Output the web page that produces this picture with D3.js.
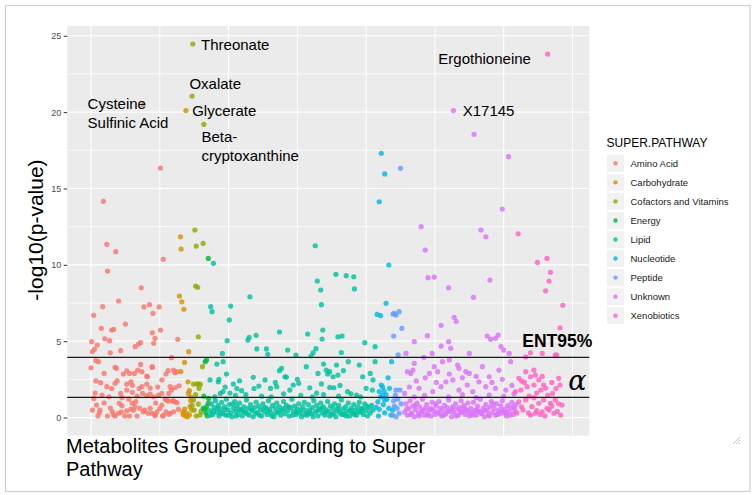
<!DOCTYPE html>
<html>
<head>
<meta charset="utf-8">
<script src="https://cdn.jsdelivr.net/npm/d3@7"></script>
<style>
  html, body { margin: 0; padding: 0; background: #fff; }
  svg { display: block; font-family: "Liberation Sans", Arial, Helvetica, sans-serif; }
</style>
</head>
<body>
<div id="chart"></div>
<script>
// ---- data: [metabolite index, -log10(p)] per super pathway ----
const aminoAcid = [[18,14.16],[23,11.34],[36,10.86],[76,20.46],[101,16.34],[24,9.59],[105,10.36],[73,8.5],[40,7.63],[17,7.26],[4,6.69],[77,7.24],[85,7.39],[90,6.82],[99,7.24],[50,6.12],[15,5.84],[30,5.73],[33,5.77],[20,5.16],[27,5.03],[1,4.97],[5,4.47],[9,4.75],[2,4.31],[28,4.24],[43,4.38],[64,4.64],[69,4.81],[89,5.55],[93,5.19],[91,4.86],[101,5.73],[126,5.12],[117,3.92],[7,3.72],[11,3.66],[0,3.26],[35,3.29],[37,3.22],[19,2.89],[52,3.06],[56,2.89],[63,2.89],[72,3.48],[74,3.0],[89,3.33],[81,2.72],[120,3.11],[125,3.0],[14,2.28],[23,2.02],[35,2.24],[38,2.41],[52,2.19],[58,2.34],[60,2.11],[74,2.02],[81,2.19],[86,1.93],[103,2.46],[109,2.85],[115,2.02],[122,1.95],[128,2.08],[16,1.47],[26,1.36],[43,1.58],[45,1.30],[52,1.80],[60,1.65],[67,1.41],[75,1.58],[81,1.43],[86,1.54],[98,1.47],[103,1.58],[108,1.19],[112,1.08],[118,1.08],[122,1.03],[4,1.25],[8,0.82],[2,0.49],[13,0.49],[12,0.31],[10,0.10],[24,0.10],[31,0.38],[35,0.10],[40,0.28],[41,0.93],[45,0.77],[49,0.10],[52,0.43],[56,0.10],[60,0.93],[62,0.49],[64,0.71],[67,0.10],[71,0.60],[76,0.38],[83,0.28],[89,0.28],[93,0.12],[96,0.38],[105,0.12],[109,0.38],[113,0.21],[120,0.38],[103,0.82],[72,4.9],[82,2.67],[89,3.28],[112,3.07],[122,2.94],[117,1.80],[113,1.58],[110,1.15],[120,1.10],[125,0.97],[91,1.36],[86,0.60],[93,0.16],[104,0.10],[115,0.28],[78,0.49],[65,1.05],[28,0.62],[19,0.95],[47,2.85],[30,1.9],[6,1.6],[55,1.2],[70,1.9],[97,2.0],[100,0.6],[33,0.18],[58,0.55],[68,3.1],[7,2.4],[44,0.35],[94,0.95],[127,0.55]];
const carbohydrate = [[130,11.84],[131,11.03],[128.5,7.96],[132,7.58],[135,7.09],[142,4.31],[136,3.61],[130.5,3.0],[141,2.34],[143,1.76],[141.5,1.58],[145,1.10],[144,0.71],[133.5,0.38],[137,0.10],[139,0.28],[143,0.16],[146.5,0.49],[138,20.1],[134,0.2],[140,0.05],[136,0.55],[145,1.35]];
const cofactors = [[151,12.28],[153,11.23],[163,11.4],[152,8.61],[155,8.53],[156,5.29],[162,3.33],[149,2.19],[154,2.19],[156,2.2],[159,2.17],[149,1.15],[156,0.88],[158.5,0.16],[150,0.49],[148,24.46],[147,21.05],[164,19.2],[152,1.5],[160,0.4],[147,0.8],[153,0.1],[157,1.9]];
const energy = [[170.5,10.42],[168,3.77],[166,3.66],[163,0.6],[168,0.71],[170.5,0.93],[166,0.54],[167,0.3],[171,1.25],[164,1.4],[169,0.1]];
const lipid = [[178,10.1],[326,11.25],[356,9.38],[371,9.29],[382,9.22],[329,8.94],[334,8.35],[383,8.42],[335,7.39],[231,7.91],[203,7.30],[201,6.39],[174,7.26],[176,6.93],[337,5.73],[336,5.14],[315,5.47],[274,5.60],[240,5.38],[230,5.25],[228,5.07],[198,5.03],[359,5.29],[365,5.34],[398,4.90],[413,4.64],[241,4.49],[255,4.49],[257,4.14],[286,4.42],[298,4.09],[327,4.51],[323,4.24],[320,4.03],[364,4.26],[191,4.20],[192,3.66],[197,2.85],[183,3.50],[173,2.46],[186,2.50],[185,2.34],[216,2.41],[236,2.63],[253,2.46],[274,3.07],[277,3.22],[282,2.67],[284,2.65],[300,2.50],[302,2.24],[313,3.33],[330,2.89],[338,3.50],[342,3.11],[347,3.0],[344,2.85],[352,2.67],[357,3.44],[359,2.78],[367,3.07],[374,3.66],[390,3.44],[395,2.67],[406,2.89],[410,2.46],[413,3.66],[270,2.02],[261,1.91],[289,1.80],[294,2.13],[237,1.9],[244,2.06],[207,2.19],[219,1.76],[192,1.7],[188,1.58],[202,1.6],[318,1.95],[328,1.6],[347,1.97],[353,1.95],[373,1.69],[386,1.47],[400,1.91],[409,1.8],[180,1.35],[195,2.0],[210,1.45],[225,1.5],[248,1.4],[262,1.35],[280,1.55],[305,1.45],[322,1.35],[338,1.5],[360,1.4],[378,1.55],[392,1.35],[212,1.9],[268,2.3],[335,2.2],[362,2.1],
  [173,0.45],[175,0.9],[177,0.2],[179,0.65],[181,1.1],[183,0.35],[185,0.8],[186,0.1],[188,0.55],[190,1.0],[192,0.25],[194,0.7],[196,0.15],[197,1.2],[199,0.5],[201,0.85],[203,0.3],[205,0.05],[207,0.6],[209,1.05],[210,0.4],[212,0.75],[214,0.2],[216,0.95],[218,0.5],[220,0.1],[222,0.7],[224,0.35],[226,1.15],[228,0.6],[230,0.15],[232,0.85],[234,0.45],[236,0.05],[238,0.65],[240,1.0],[242,0.3],[244,0.75],[246,0.5],[248,0.1],[250,0.9],[252,0.4],[254,0.65],[256,0.2],[258,1.1],[260,0.55],[262,0.3],[264,0.8],[266,0.05],[268,0.6],[270,0.95],[272,0.35],[274,0.7],[276,0.15],[278,0.5],[280,1.05],[282,0.25],[284,0.8],[286,0.45],[288,0.1],[290,0.65],[292,1.2],[294,0.4],[296,0.75],[298,0.2],[300,0.55],[302,0.9],[304,0.3],[306,0.05],[308,0.7],[310,1.0],[312,0.45],[314,0.15],[316,0.85],[318,0.5],[320,0.25],[322,0.65],[324,1.1],[326,0.35],[328,0.8],[330,0.1],[332,0.55],[334,0.95],[336,0.3],[338,0.7],[340,0.15],[342,0.5],[344,1.05],[346,0.4],[348,0.75],[350,0.2],[352,0.6],[354,0.9],[356,0.05],[358,0.45],[360,0.8],[362,0.3],[364,1.15],[366,0.55],[368,0.2],[370,0.7],[372,0.4],[374,0.95],[376,0.1],[378,0.6],[380,0.3],[382,0.85],[384,0.5],[386,0.15],[388,0.7],[390,1.0],[392,0.35],[394,0.6],[396,0.2],[398,0.9],[400,0.45],[402,0.1],[404,0.65],[406,0.3],[408,0.8],[410,0.5],
  [174,0.15],[178,0.4],[184,0.6],[189,0.3],[195,0.5],[200,0.15],[206,0.9],[211,0.1],[215,0.55],[221,0.4],[227,0.25],[233,0.55],[239,0.3],[245,0.15],[251,0.6],[257,0.45],[263,0.1],[269,0.3],[275,0.45],[281,0.6],[287,0.7],[293,0.15],[299,0.35],[305,0.5],[311,0.2],[317,0.3],[323,0.05],[329,0.45],[335,0.6],[341,0.35],[347,0.1],[353,0.3],[359,0.6],[365,0.2],[371,0.1],[377,0.45],[383,0.2],[389,0.4],[395,0.55],[401,0.75]];
const nucleotide = [[422,17.3],[427,15.95],[419,14.13],[433,9.99],[429,7.48],[416,6.75],[421,6.67],[437,3.66],[422,2.13],[424,2.0],[434,1.91],[426,1.75],[419,1.7],[424,1.47],[427,1.15],[417,1.03],[430,1.2],[419,0.54],[427,0.31],[438.6,0.49],[414.5,0.67],[436,0.16],[432,2.6],[418,0.1],[425,0.85],[433,0.6],[421,1.35],[429,1.5]];
const peptide = [[450,16.32],[439,6.78],[441,6.82],[443.5,6.71],[448,6.93],[452,5.84],[440,5.34],[446.5,4.1],[443.5,1.80],[449,1.80],[442.5,1.47],[441,0.75],[445,0.6],[438.6,0.16],[443.5,0.05],[448,0.28],[451,0.9],[446,1.2],[440,1.1]];
const unknown = [[527,20.1],[557,18.55],[607,17.08],[598,13.65],[480,12.5],[567,12.28],[574,11.84],[486,10.97],[490,9.16],[499,9.2],[580,9.0],[520,8.5],[556,7.87],[528,6.56],[531,6.3],[509,6.04],[489,5.36],[470,4.97],[509,4.68],[520,4.97],[523,4.53],[576,5.34],[581,5.12],[588,5.19],[592,5.40],[596,4.64],[600,4.42],[550,4.20],[496,4.20],[458,4.20],[484,3.94],[511,3.66],[521,3.77],[533,3.44],[535,3.22],[470,3.55],[460,3.0],[465,2.89],[468,3.11],[499,3.33],[504,3.0],[492,2.89],[550,2.89],[569,3.33],[579,2.67],[593,3.11],[610,3.66],[608,4.20],[516,2.34],[526,2.46],[547,2.13],[564,2.34],[574,2.02],[535,1.80],[509,2.02],[477,1.91],[456,1.58],[497,1.69],[555,1.69],[588,1.91],[603,1.80],[579,1.47],[463,2.0],[473,2.4],[486,2.6],[502,2.3],[521,2.85],[540,2.6],[545,3.0],[560,2.7],[583,2.3],[598,2.5],[612,2.1],[470,1.35],[485,1.45],[520,1.35],[540,1.5],[560,1.3],[600,1.4],[615,1.55],
  [456,0.35],[458,0.9],[460,0.15],[462,0.6],[464,1.1],[466,0.3],[468,0.75],[470,0.05],[472,0.5],[474,0.95],[476,0.25],[478,0.7],[480,0.4],[482,1.2],[484,0.15],[486,0.6],[488,0.85],[490,0.3],[492,0.55],[494,0.1],[496,1.0],[498,0.45],[500,0.2],[502,0.75],[504,0.35],[506,1.05],[508,0.6],[510,0.1],[512,0.5],[514,0.8],[516,0.25],[518,0.65],[520,1.15],[522,0.4],[524,0.05],[526,0.7],[528,0.3],[530,0.9],[532,0.55],[534,0.15],[536,0.65],[538,1.1],[540,0.35],[542,0.8],[544,0.2],[546,0.5],[548,0.95],[550,0.1],[552,0.6],[554,0.3],[556,1.0],[558,0.45],[560,0.15],[562,0.75],[564,0.4],[566,1.2],[568,0.25],[570,0.6],[572,0.05],[574,0.85],[576,0.5],[578,0.2],[580,0.7],[582,1.05],[584,0.35],[586,0.6],[588,0.15],[590,0.9],[592,0.45],[594,0.25],[596,0.75],[598,1.1],[600,0.3],[602,0.55],[604,0.1],[606,0.8],[608,0.4],[610,0.65],[612,1.0],[614,0.2],[616,0.5],[618,0.85],
  [459,0.55],[465,0.2],[471,0.8],[477,0.1],[483,0.45],[489,0.15],[495,0.6],[501,0.9],[507,0.25],[513,0.15],[519,0.4],[525,0.55],[531,0.1],[537,0.35],[543,0.6],[549,0.4],[555,0.15],[561,0.5],[567,0.3],[573,0.45],[579,0.1],[585,0.9],[591,0.2],[597,0.45],[603,0.3],[609,0.15],[615,0.7]];
const xenobiotics = [[664,23.8],[621,12.03],[649,10.16],[663,10.42],[668,9.51],[666,8.94],[661,8.30],[686,7.35],[682,5.88],[632,3.97],[639,4.24],[656,4.20],[675,4.09],[677,4.1],[622,2.57],[626,2.4],[632,3.0],[639,2.67],[644,3.11],[646,2.78],[651,2.46],[658,2.13],[661,1.93],[654,1.80],[644,2.13],[634,2.02],[625,1.80],[617,1.69],[671,1.58],[680,2.57],[682,2.13],[675,1.15],[685,0.82],[668,0.93],[658,1.15],[663,0.60],[651,0.93],[641,0.71],[632,1.15],[622,1.03],[639,0.16],[646,0.28],[656,0.38],[673,0.28],[683,0.16],[628,0.5],[636,0.3],[648,0.45],[660,0.1],[666,0.5],[678,0.4],[619,0.3],[626,0.7],[644,1.3],[653,0.2],[670,0.75],[680,0.9],[637,1.4],[648,1.6],[664,1.45],[676,1.9],[630,2.3],[656,2.7],[670,2.3]];

const pathways = ['Amino Acid', 'Carbohydrate', 'Cofactors and Vitamins', 'Energy', 'Lipid', 'Nucleotide', 'Peptide', 'Unknown', 'Xenobiotics'];
const pathwayData = [aminoAcid, carbohydrate, cofactors, energy, lipid, nucleotide, peptide, unknown, xenobiotics];
const colours = ['#F8766D', '#D39200', '#93AA00', '#00BA38', '#00C19F', '#00B9E3', '#619CFF', '#DB72FB', '#FF61C3'];

const yTicks = [0, 5, 10, 15, 20, 25];
const yMinor = [2.5, 7.5, 12.5, 17.5, 22.5];
const xMajor = [0, 200, 400, 600];
const xMinor = [100, 300, 500, 700];

// thresholds: ENT95% and alpha = 0.05
const thresholds = [3.94, 1.32];

// labelled metabolites: [text lines], anchor index, anchor value
const labelText = [['Threonate'], ['Oxalate'], ['Glycerate'], ['Beta-', 'cryptoxanthine'], ['Ergothioneine'], ['X17145'], ['Cysteine', 'Sulfinic Acid']];
const labelX = [160, 143, 147, 160.5, 505, 540.5, -5];
const labelY = [24.4, 21.9, 20.1, 18.37, 23.52, 20.1, 20.53];

// ---- layout ----
const W = 756, H = 495;
const panel = { left: 67.3, right: 589.3, top: 26, bottom: 435.7 };

const svg = d3.select('#chart').append('svg').attr('width', W).attr('height', H);

// outer frame
svg.append('rect').attr('x', 5.5).attr('y', 5.5).attr('width', 744.5).attr('height', 486)
  .attr('fill', '#fff').attr('stroke', '#cfcfcf').attr('stroke-width', 1.2);

const x = d3.scaleLinear().domain([-34.5, 724.5]).range([panel.left, panel.right]);
const y = d3.scaleLinear().domain([-1.19, 25.64]).range([panel.bottom, panel.top]);

// panel background
svg.append('rect')
  .attr('x', panel.left).attr('y', panel.top)
  .attr('width', panel.right - panel.left).attr('height', panel.bottom - panel.top)
  .attr('fill', '#EBEBEB');

const grid = svg.append('g');
grid.selectAll('.hmin').data(yMinor).enter().append('line')
  .attr('x1', panel.left).attr('x2', panel.right)
  .attr('y1', d => y(d)).attr('y2', d => y(d))
  .attr('stroke', '#fff').attr('stroke-width', 0.7);
grid.selectAll('.vmin').data(xMinor).enter().append('line')
  .attr('y1', panel.top).attr('y2', panel.bottom)
  .attr('x1', d => x(d)).attr('x2', d => x(d))
  .attr('stroke', '#fff').attr('stroke-width', 0.9);
grid.selectAll('.hmaj').data(yTicks).enter().append('line')
  .attr('x1', panel.left).attr('x2', panel.right)
  .attr('y1', d => y(d)).attr('y2', d => y(d))
  .attr('stroke', '#fff').attr('stroke-width', 1.2);
grid.selectAll('.vmaj').data(xMajor).enter().append('line')
  .attr('y1', panel.top).attr('y2', panel.bottom)
  .attr('x1', d => x(d)).attr('x2', d => x(d))
  .attr('stroke', '#fff').attr('stroke-width', 1.1);

// points
const pts = svg.append('g');
pathwayData.forEach((arr, i) => {
  pts.selectAll(null).data(arr).enter().append('circle')
    .attr('cx', d => x(d[0]))
    .attr('cy', d => y(d[1]))
    .attr('r', 2.6)
    .attr('fill', colours[i])
    .attr('fill-opacity', 0.82);
});

// threshold lines
svg.selectAll('.thr').data(thresholds).enter().append('line')
  .attr('x1', panel.left).attr('x2', panel.right)
  .attr('y1', d => y(d)).attr('y2', d => y(d))
  .attr('stroke', '#1a1a1a').attr('stroke-width', 1.4);

svg.append('text')
  .attr('x', x(627)).attr('y', y(thresholds[0]) - 10)
  .attr('font-size', 17.5).attr('font-weight', 'bold').attr('fill', '#000')
  .text('ENT95%');
svg.append('text')
  .attr('x', x(694)).attr('y', y(thresholds[1]) - 7)
  .attr('font-size', 27).attr('font-style', 'italic')
  .attr('font-family', '"DejaVu Serif", "Liberation Serif", serif')
  .attr('fill', '#000')
  .text('α');

// y axis
const yAxis = d3.axisLeft(y).tickValues(yTicks).tickSize(3.6).tickPadding(2.5);
const ya = svg.append('g').attr('transform', `translate(${panel.left},0)`).call(yAxis);
ya.select('.domain').remove();
ya.selectAll('.tick line').attr('stroke', '#333').attr('stroke-width', 1);
ya.selectAll('.tick text').attr('fill', '#4D4D4D').attr('font-size', 9)
  .attr('font-family', '"Liberation Sans", Arial, sans-serif');

// labels
labelText.forEach((lines, i) => {
  const t = svg.append('text')
    .attr('x', x(labelX[i])).attr('y', y(labelY[i]))
    .attr('font-size', 15).attr('fill', '#000');
  lines.forEach((ln, j) => {
    t.append('tspan').attr('x', x(labelX[i])).attr('dy', j === 0 ? '0.36em' : '1.25em').text(ln);
  });
});

// axis titles
svg.append('text')
  .attr('transform', `translate(43,230) rotate(-90)`)
  .attr('text-anchor', 'middle').attr('font-size', 21).attr('fill', '#000')
  .text('-log10(p-value)');
const xt = svg.append('text').attr('x', 66).attr('y', 452.5).attr('font-size', 20).attr('fill', '#000');
xt.append('tspan').attr('x', 66).text('Metabolites Grouped according to Super');
xt.append('tspan').attr('x', 66).attr('dy', 23).text('Pathway');

// legend
const lg = svg.append('g').attr('transform', 'translate(606.5,0)');
lg.append('text').attr('x', 0).attr('y', 147).attr('font-size', 12).attr('fill', '#000').text('SUPER.PATHWAY');
const item = lg.selectAll('.item').data(pathways).enter().append('g')
  .attr('transform', (d, i) => `translate(0,${163.3 + i * 19.05})`);
item.append('rect').attr('x', 0.5).attr('y', -8.5).attr('width', 17).attr('height', 17).attr('fill', '#F2F2F2');
item.append('circle').attr('cx', 9).attr('cy', 0).attr('r', 2.2).attr('fill', (d, i) => colours[i]).attr('fill-opacity', 0.82);
item.append('text').attr('x', 24).attr('y', 0).attr('dy', '0.35em')
  .attr('font-size', 9.5).attr('fill', '#1a1a1a').text(d => d);

// resize grip
const grip = svg.append('g').attr('stroke', '#b5b5b5').attr('stroke-width', 0.8);
[[740, 437, 733, 444], [740, 440, 736, 444], [740, 442.5, 738.5, 444]].forEach(s => {
  grip.append('line').attr('x1', s[0]).attr('y1', s[1]).attr('x2', s[2]).attr('y2', s[3]);
});
</script>
</body>
</html>
